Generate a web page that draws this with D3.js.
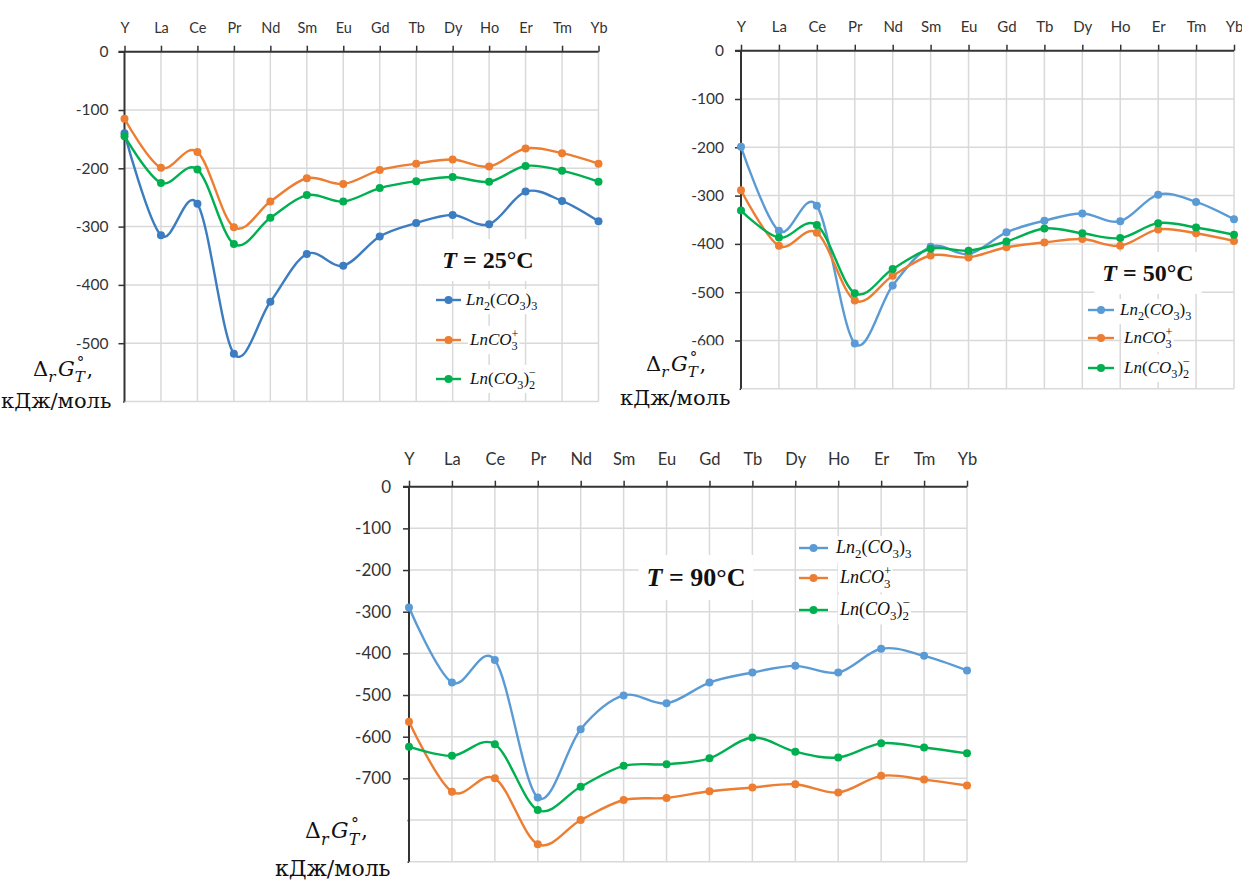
<!DOCTYPE html>
<html>
<head>
<meta charset="utf-8">
<script src="https://cdn.jsdelivr.net/npm/d3@7"></script>
<style>
  body { margin: 0; background: #fff; }
  svg { display: block; }
</style>
</head>
<body>
<svg id="chart" width="1242" height="880"></svg>
<script>
// categories (top axis)
const elements = ['Y', 'La', 'Ce', 'Pr', 'Nd', 'Sm', 'Eu', 'Gd', 'Tb', 'Dy', 'Ho', 'Er', 'Tm', 'Yb'];

// T = 25 C
const ln2co33_25 = [-140, -315, -261, -518, -429, -347, -367, -317, -294, -280, -296, -240, -256, -291];
const lnco3_25   = [-115, -199, -172, -301, -257, -217, -227, -203, -192, -185, -197, -166, -174, -192];
const lnco32_25  = [-145, -225, -202, -330, -285, -246, -257, -234, -222, -215, -223, -196, -204, -223];

// T = 50 C
const ln2co33_50 = [-199, -373, -321, -606, -486, -406, -421, -376, -352, -337, -353, -298, -313, -349];
const lnco3_50   = [-289, -404, -377, -517, -466, -424, -428, -407, -397, -390, -404, -370, -378, -394];
const lnco32_50  = [-331, -387, -361, -502, -452, -410, -414, -395, -368, -378, -388, -357, -366, -381];

// T = 90 C
const ln2co33_90 = [-290, -470, -416, -746, -582, -501, -520, -470, -446, -430, -446, -389, -406, -441];
const lnco3_90   = [-564, -732, -700, -858, -800, -752, -747, -731, -722, -714, -734, -694, -703, -717];
const lnco32_90  = [-624, -646, -618, -776, -720, -670, -666, -652, -602, -636, -650, -616, -626, -640];

// value axis: gridlines and the labels that are visible
const grid25 = [-100, -200, -300, -400, -500, -600];
const ticks25 = [0, -100, -200, -300, -400, -500];
const grid50 = [-100, -200, -300, -400, -500, -600, -700];
const ticks50 = [0, -100, -200, -300, -400, -500, -600];
const grid90 = [-100, -200, -300, -400, -500, -600, -700, -800, -900];
const ticks90 = [0, -100, -200, -300, -400, -500, -600, -700];

const temps = ['25', '50', '90'];

// legend entries as formula parts
const legendParts = [
  [{t: 'Ln'}, {t: '2', sub: 1, up: 1}, {t: '(', up: 1}, {t: 'CO'}, {t: '3', sub: 1, up: 1}, {t: ')', up: 1}, {t: '3', sub: 1, up: 1}],
  [{t: 'LnCO'}, {t: '3', sub: 1, up: 1}, {t: '+', sup: 1, up: 1, dx: -0.36}],
  [{t: 'Ln'}, {t: '(', up: 1}, {t: 'CO'}, {t: '3', sub: 1, up: 1}, {t: ')', up: 1}, {t: '2', sub: 1, up: 1}, {t: '\u2212', sup: 1, up: 1, dx: -0.36}]
];
// value axis title, first line
const titleParts = [{t: '\u0394', up: 1}, {t: 'r', sub: 1}, {t: 'G', dx: 0.12}, {t: 'T', sub: 1}, {t: '\u00b0', sup: 1, up: 1, dx: -0.38}, {t: ',', up: 1, dx: 0.1}];
const unitText = '\u043a\u0414\u0436/\u043c\u043e\u043b\u044c';

const svg = d3.select('#chart');
const serif = "'Liberation Serif', 'Times New Roman', serif";
const wideSerif = "'DejaVu Serif', serif";
const sans = "Lato, 'Liberation Sans', Arial, sans-serif";

const panels = [
  {
    left: 124.5, right: 598.5, top: 51.7, bottom: 401.5, min: -600,
    grid: grid25, ticks: ticks25, series: [ln2co33_25, lnco3_25, lnco32_25],
    colors: ['#3b7dc0', '#ed7d31', '#00b050'],
    fs: 15.5, cfs: 14.5, catPad: 13, valPad: 10,
    temp: temps[0], tx: 488, ty: 268, tfs: 24,
    leg: {x1: 436, x2: 461, xt: 466, ys: [300, 340, 379], fs: 17},
    lab: {x: 33, y: 376, x2: 1, y2: 408, fs: 21}
  },
  {
    left: 741, right: 1234, top: 50.7, bottom: 388.8, min: -700,
    grid: grid50, ticks: ticks50, series: [ln2co33_50, lnco3_50, lnco32_50],
    colors: ['#5b9bd5', '#ed7d31', '#00b050'],
    fs: 15.5, cfs: 15, catPad: 13, valPad: 11,
    temp: temps[1], tx: 1148, ty: 281, tfs: 24,
    leg: {x1: 1088, x2: 1114, xt: 1120, ys: [310, 338, 368], fs: 17},
    lab: {x: 646, y: 371, x2: 620, y2: 405, fs: 21}
  },
  {
    left: 409, right: 967, top: 486.7, bottom: 861.7, min: -900,
    grid: grid90, ticks: ticks90, series: [ln2co33_90, lnco3_90, lnco32_90],
    colors: ['#5b9bd5', '#ed7d31', '#00b050'],
    fs: 17, cfs: 16.5, catPad: 16, valPad: 12,
    temp: temps[2], tx: 696, ty: 586, tfs: 26,
    leg: {x1: 799, x2: 828, xt: 836, ys: [548, 578, 610], fs: 18},
    lab: {x: 305, y: 838, x2: 275, y2: 876, fs: 22}
  }
];

function mathText(g, x, y, parts, size, family) {
  const t = g.append('text')
    .attr('x', x).attr('y', y)
    .attr('font-family', family || serif)
    .attr('font-style', 'italic')
    .attr('font-size', size)
    .attr('fill', '#111');
  let cur = 0;
  parts.forEach(p => {
    const off = p.sub ? 0.3 * size : p.sup ? -0.42 * size : 0;
    const ts = t.append('tspan').attr('dy', off - cur).text(p.t);
    cur = off;
    if (p.sub || p.sup) ts.attr('font-size', size * 0.72);
    if (p.up) ts.attr('font-style', 'normal');
    if (p.dx) ts.attr('dx', p.dx * size);
  });
  return t;
}

function whiteBehind(g, node, pad) {
  const b = node.getBBox();
  g.insert('rect', () => node)
    .attr('x', b.x - pad).attr('y', b.y - pad)
    .attr('width', b.width + 2 * pad).attr('height', b.height + 2 * pad)
    .attr('fill', '#fff');
}

panels.forEach(p => {
  const g = svg.append('g');

  const x = d3.scalePoint().domain(elements).range([p.left, p.right]);
  const y = d3.scaleLinear().domain([p.min, 0]).range([p.bottom, p.top]);

  // gridlines
  g.append('g').selectAll('line')
    .data(elements.slice(1))
    .join('line')
    .attr('x1', d => x(d)).attr('x2', d => x(d))
    .attr('y1', p.top).attr('y2', p.bottom)
    .attr('stroke', '#d9d9d9').attr('stroke-width', 1.5);
  g.append('g').selectAll('line')
    .data(p.grid)
    .join('line')
    .attr('x1', p.left).attr('x2', p.right)
    .attr('y1', d => y(d)).attr('y2', d => y(d))
    .attr('stroke', '#d9d9d9').attr('stroke-width', 1.5);

  // axes
  const yAxis = g.append('g')
    .attr('transform', `translate(${p.left},0)`)
    .call(d3.axisLeft(y).tickValues(p.grid.concat([0])).tickSize(6).tickPadding(p.valPad)
      .tickFormat(d => p.ticks.includes(d) ? String(d) : ''));
  const xAxis = g.append('g')
    .attr('transform', `translate(0,${p.top})`)
    .call(d3.axisTop(x).tickSize(6).tickPadding(p.catPad));

  [xAxis, yAxis].forEach(a => {
    a.select('.domain').attr('stroke', '#333').attr('stroke-width', 2);
    a.selectAll('.tick line').attr('stroke', '#333').attr('stroke-width', 1.5);
    a.selectAll('.tick text').attr('fill', '#333').attr('font-family', sans).attr('font-size', p.fs);
  });
  yAxis.select('.domain').attr('d', `M0,${p.top}V${p.bottom}`);
  xAxis.select('.domain').attr('d', `M${p.left - 6},0H${p.right}`);
  xAxis.selectAll('.tick text').attr('font-size', p.cfs);

  // series
  const line = d3.line()
    .x((d, i) => x(elements[i]))
    .y(d => y(d))
    .curve(d3.curveCardinal.tension(0));

  p.series.forEach((s, k) => {
    g.append('path')
      .datum(s)
      .attr('d', line)
      .attr('fill', 'none')
      .attr('stroke', p.colors[k])
      .attr('stroke-width', 2.4);
    g.append('g').selectAll('circle')
      .data(s)
      .join('circle')
      .attr('cx', (d, i) => x(elements[i]))
      .attr('cy', d => y(d))
      .attr('r', 4)
      .attr('fill', p.colors[k]);
  });

  // temperature label
  const tt = g.append('text')
    .attr('x', p.tx).attr('y', p.ty)
    .attr('text-anchor', 'middle')
    .attr('font-family', serif)
    .attr('font-weight', 'bold')
    .attr('font-size', p.tfs)
    .attr('fill', '#111');
  tt.append('tspan').attr('font-style', 'italic').text('T');
  tt.append('tspan').text(' = ' + p.temp + '\u00b0C');
  whiteBehind(g, tt.node(), 8);

  // legend
  p.leg.ys.forEach((ly, k) => {
    g.append('line')
      .attr('x1', p.leg.x1).attr('x2', p.leg.x2)
      .attr('y1', ly).attr('y2', ly)
      .attr('stroke', p.colors[k]).attr('stroke-width', 2.4);
    g.append('circle')
      .attr('cx', (p.leg.x1 + p.leg.x2) / 2).attr('cy', ly).attr('r', 4)
      .attr('fill', p.colors[k]);
    const t = mathText(g, p.leg.xt + (k ? 4 : 0), ly + 5, legendParts[k], p.leg.fs);
    whiteBehind(g, t.node(), 1);
  });

  // value axis title
  const lg = g.append('g');
  const l1 = mathText(lg, p.lab.x, p.lab.y, titleParts, p.lab.fs, wideSerif);
  const l2 = lg.append('text')
    .attr('x', p.lab.x2).attr('y', p.lab.y2)
    .attr('font-family', wideSerif)
    .attr('font-size', p.lab.fs)
    .attr('fill', '#111')
    .text(unitText);
  const b1 = l1.node().getBBox();
  const b2 = l2.node().getBBox();
  const top = b1.y - 3;
  const left = Math.min(b1.x, b2.x) - 2;
  lg.insert('rect', ':first-child')
    .attr('x', left).attr('y', top)
    .attr('width', p.left - 1.5 - left)
    .attr('height', p.bottom + 10 - top)
    .attr('fill', '#fff');
});
</script>
</body>
</html>
